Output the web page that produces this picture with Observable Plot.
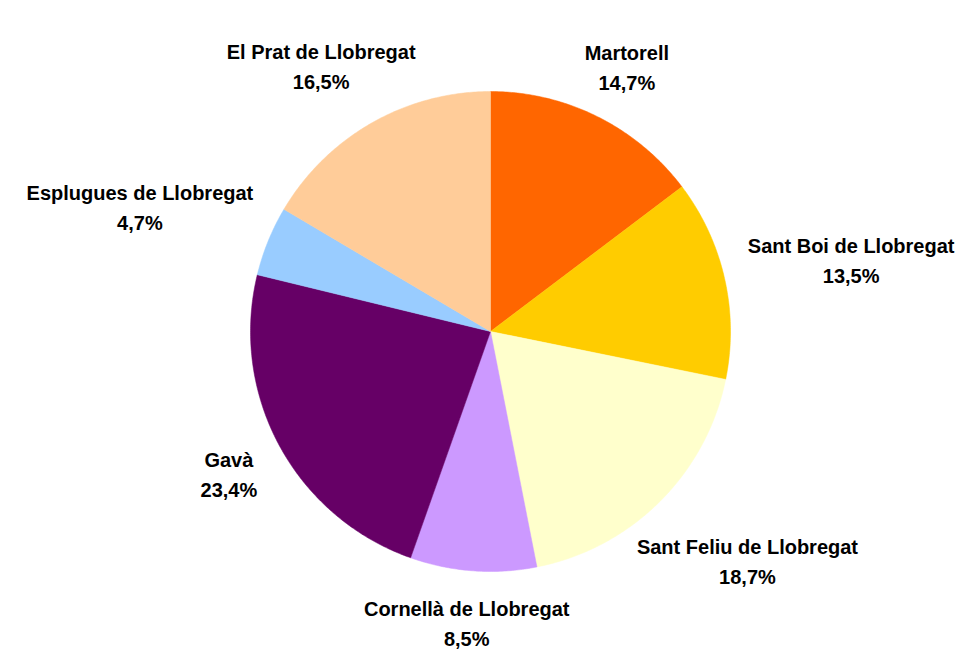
<!DOCTYPE html>
<html><head><meta charset="utf-8">
<script src="https://cdn.jsdelivr.net/npm/d3@7"></script>
<script src="https://cdn.jsdelivr.net/npm/@observablehq/plot@0.6"></script>
<style>body{margin:0;background:#fff}</style>
</head><body><div id="chart"></div>
<script>
const categories = ["Martorell", "Sant Boi de Llobregat", "Sant Feliu de Llobregat", "Cornellà de Llobregat", "Gavà", "Esplugues de Llobregat", "El Prat de Llobregat"];
const shares = [14.7, 13.5, 18.7, 8.5, 23.4, 4.7, 16.5];
const colors = ["#FF6600", "#FFCC00", "#FFFFCC", "#CC99FF", "#660066", "#99CCFF", "#FFCC99"];

const W = 959, H = 650;
const mL = 250, mR = 229, mT = 91, mB = 79;
const pxPerUnit = (W - mL - mR) / 2;
const FAMILY = "'Liberation Sans', Arial, sans-serif";
const FONT = "bold 20px " + FAMILY;

const fmt = v => d3.format(".1f")(v).replace(".", ",") + "%";
const arcs = d3.pie().sort(null).value(d => d)(shares);

// slice outlines in unit-circle coordinates (y up), derived from the pie layout
const slicePoints = arcs.flatMap((a, i) => {
  const n = Math.max(4, Math.ceil((a.endAngle - a.startAngle) / (Math.PI / 360)));
  const pts = [{x: 0, y: 0, name: categories[i], color: colors[i]}];
  for (let k = 0; k <= n; k++) {
    const t = a.startAngle + (a.endAngle - a.startAngle) * k / n;
    pts.push({x: Math.sin(t), y: Math.cos(t), name: categories[i], color: colors[i]});
  }
  pts.push({x: 0, y: 0, name: categories[i], color: colors[i]});
  return pts;
});

// label placement: blend of two outside-label rules along the slice's mid-angle
const ctx = document.createElement("canvas").getContext("2d");
ctx.font = FONT;
const K = 268 / pxPerUnit;   // anchor radius for the offset rule
const D = 262 / pxPerUnit;   // clearance of the label box from the centre
const labels = arcs.map((a, i) => {
  const mid = (a.startAngle + a.endAngle) / 2;
  const ux = Math.sin(mid), uy = Math.cos(mid);
  const w = Math.max(ctx.measureText(categories[i]).width, ctx.measureText(fmt(shares[i])).width);
  const ha = w / 2 / pxPerUnit, hb = 25 / pxPerUnit;
  // rule 1: box pushed outward by its half extents
  const x1 = ux * K + ux * ha, y1 = uy * K + uy * hb;
  // rule 2: box centred on the ray, nearest corner/edge at clearance D
  const dist = t => Math.hypot(Math.max(Math.abs(ux * t) - ha, 0), Math.max(Math.abs(uy * t) - hb, 0));
  let lo = 0, hi = 5;
  for (let k = 0; k < 60; k++) { const m = (lo + hi) / 2; if (dist(m) < D) lo = m; else hi = m; }
  const x2 = ux * lo, y2 = uy * lo;
  return {x: (x1 + x2) / 2, y: (y1 + y2) / 2, text: categories[i] + "\n" + fmt(shares[i])};
});

const chart = Plot.plot({
  width: W, height: H,
  marginLeft: mL, marginRight: mR, marginTop: mT, marginBottom: mB,
  x: {domain: [-1, 1], axis: null},
  y: {domain: [-1, 1], axis: null},
  color: {type: "identity"},
  marks: [
    Plot.line(slicePoints, {x: "x", y: "y", z: "name", fill: "color", stroke: "color", strokeWidth: 0.5, curve: "linear"}),
    Plot.text(labels, {x: "x", y: "y", text: "text", fontSize: 20, fontWeight: "bold",
      fontFamily: FAMILY, fill: "#000",
      lineHeight: 1.5, lineAnchor: "middle", textAnchor: "middle"})
  ]
});
document.getElementById("chart").append(chart);
</script>
</body></html>
